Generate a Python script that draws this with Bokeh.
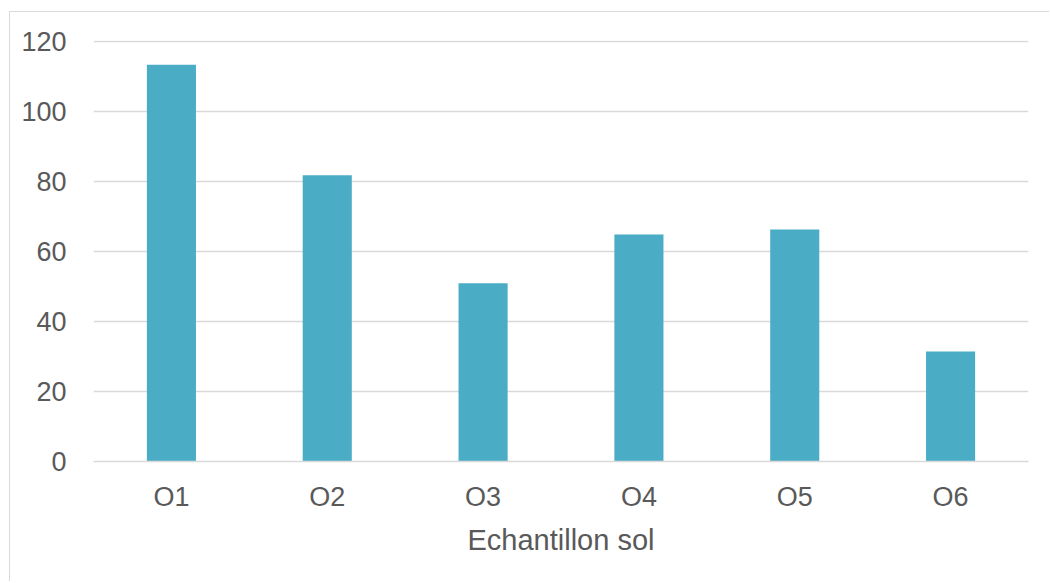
from bokeh.plotting import figure
from bokeh.models import FactorRange, Range1d, ColumnDataSource, FixedTicker
from bokeh.embed import file_html
from bokeh.resources import INLINE

categories = ["O1", "O2", "O3", "O4", "O5", "O6"]
values = [113.4, 81.8, 50.9, 64.9, 66.3, 31.4]
y_ticks = [0, 20, 40, 60, 80, 100, 120]
x_title = "Echantillon sol"

src = ColumnDataSource(dict(cat=categories, val=values))

p = figure(x_range=FactorRange(*categories, range_padding=0), y_range=Range1d(0, 120.3),
           width=1040, height=570, output_backend="svg", toolbar_location=None,
           min_border_left=83, min_border_right=22, min_border_top=28, min_border_bottom=121)
p.styles = {"border-left": "1px solid #d9d9d9", "border-top": "1px solid #d9d9d9",
            "margin-left": "9px", "margin-top": "11px"}

p.vbar(x="cat", top="val", width=0.315, source=src, fill_color="#4BACC6", line_color=None)

font = "Liberation Sans"
p.outline_line_color = None
p.background_fill_color = "white"
p.border_fill_color = "white"

p.yaxis.ticker = FixedTicker(ticks=y_ticks)
p.yaxis.axis_line_color = None
p.yaxis.major_tick_line_color = None
p.yaxis.minor_tick_line_color = None
p.yaxis.major_label_text_font = font
p.yaxis.major_label_text_font_size = "27px"
p.yaxis.major_label_text_color = "#595959"
p.yaxis.major_label_standoff = 21

p.xaxis.axis_line_color = "#d9d9d9"
p.xaxis.axis_line_width = 1.5
p.xaxis.major_tick_line_color = None
p.xaxis.minor_tick_line_color = None
p.xaxis.major_label_text_font = font
p.xaxis.major_label_text_font_size = "27px"
p.xaxis.major_label_text_color = "#595959"
p.xaxis.major_label_standoff = 14
p.xaxis.axis_label = x_title
p.xaxis.axis_label_text_font = font
p.xaxis.axis_label_text_font_size = "29px"
p.xaxis.axis_label_text_font_style = "normal"
p.xaxis.axis_label_text_color = "#595959"
p.xaxis.axis_label_standoff = 9

p.xgrid.grid_line_color = None
p.ygrid.grid_line_color = "#d9d9d9"
p.ygrid.grid_line_width = 1.5

open("out.html", "w").write(file_html(p, INLINE))
